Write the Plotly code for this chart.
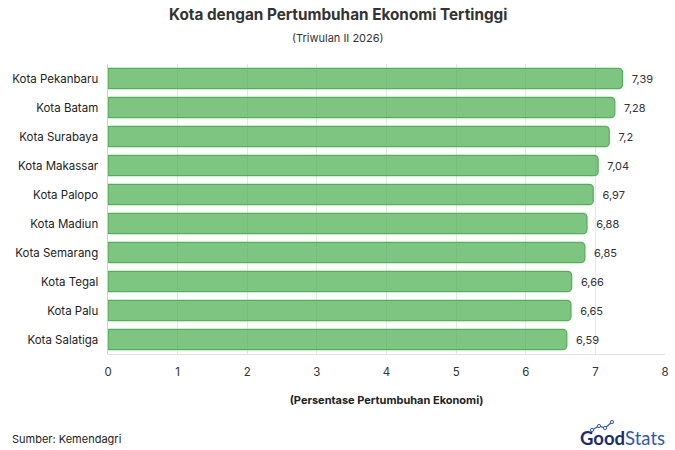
import plotly.graph_objects as go

cities = ["Kota Pekanbaru", "Kota Batam", "Kota Surabaya", "Kota Makassar", "Kota Palopo",
          "Kota Madiun", "Kota Semarang", "Kota Tegal", "Kota Palu", "Kota Salatiga"]
growth = [7.39, 7.28, 7.2, 7.04, 6.97, 6.88, 6.85, 6.66, 6.65, 6.59]
labels = ["7,39", "7,28", "7,2", "7,04", "6,97", "6,88", "6,85", "6,66", "6,65", "6,59"]
x_ticks = [0, 1, 2, 3, 4, 5, 6, 7, 8]

FONT = "Inter, Lato, sans-serif"
W, H = 675, 450
ML, MR, MT, MB = 108, 10, 64, 96
PW, PH = W - ML - MR, H - MT - MB


def px(x):
    return (x - ML) / PW


def py(y):
    return (H - y - MB) / PH


fig = go.Figure()
fig.add_trace(go.Bar(
    y=cities, x=growth, orientation="h",
    text=["  " + t for t in labels], textposition="outside", cliponaxis=False,
    textfont=dict(size=11, color="#333333", family=FONT),
    marker=dict(color="rgba(76,175,80,0.72)", line=dict(color="rgba(76,175,80,0.95)", width=1.2),
                cornerradius=4),
    width=0.7,
    hoverinfo="skip",
))

fig.update_layout(
    width=W, height=H,
    margin=dict(l=ML, r=MR, t=MT, b=MB, autoexpand=False),
    plot_bgcolor="white", paper_bgcolor="white",
    font=dict(family=FONT, color="#333333", size=11),
    showlegend=False,
    xaxis=dict(
        range=[0, 8], tickvals=x_ticks, ticktext=[str(v) for v in x_ticks],
        showgrid=True, gridcolor="#e6e6e6", gridwidth=1, automargin=False,
        zeroline=False, showline=True, linecolor="#e0e0e0",
        ticks="", ticklabelstandoff=7, tickfont=dict(size=11.5, color="#333333"),
        title=dict(text="<b>(Persentase Pertumbuhan Ekonomi)</b>", font=dict(size=11, color="#222222"), standoff=18),
    ),
    yaxis=dict(
        autorange="reversed", showgrid=False, zeroline=False, automargin=False,
        showline=True, linecolor="#d0d0d0",
        ticks="", ticksuffix="  ", tickfont=dict(size=11.5, color="#222222"),
    ),
    annotations=[
        dict(text="<b>Kota dengan Pertumbuhan Ekonomi Tertinggi</b>", x=px(338), y=py(14),
             xanchor="center", yanchor="middle",
             xref="paper", yref="paper", showarrow=False, font=dict(size=15.3, color="#333333")),
        dict(text="(Triwulan II 2026)", x=px(337.5), y=py(38), xref="paper", yref="paper",
             xanchor="center", yanchor="middle",
             showarrow=False, font=dict(size=11, color="#333333")),
        dict(text="Sumber: Kemendagri", x=px(10), y=py(439), xref="paper", yref="paper",
             xanchor="left", yanchor="middle", showarrow=False, font=dict(size=11, color="#222222")),
        dict(text="<b><span style='color:#1c2d6e'>Good</span></b><span style='color:#2f58b8'>Stats</span>",
             x=px(667), y=py(438), xref="paper", yref="paper", xanchor="right", yanchor="middle",
             showarrow=False, font=dict(size=18.5, family="Lato, sans-serif")),
    ],
)

# small line-chart icon of the logo (decoration)
icon_pts = [(592, 430), (599, 426), (605, 428), (612, 422)]
path = "M " + " L ".join(f"{px(x)},{py(y)}" for x, y in icon_pts)
fig.add_shape(type="path", path=path, xref="paper", yref="paper",
              line=dict(color="#2f58b8", width=1.2))
for x, y in icon_pts:
    fig.add_shape(type="circle", xref="paper", yref="paper",
                  x0=px(x - 1.6), x1=px(x + 1.6), y0=py(y + 1.6), y1=py(y - 1.6),
                  line=dict(color="#2f58b8", width=1), fillcolor="white")

fig.write_html("out.html", config={"displayModeBar": False},
               post_script="document.body.style.margin='0';document.body.style.padding='0';")
